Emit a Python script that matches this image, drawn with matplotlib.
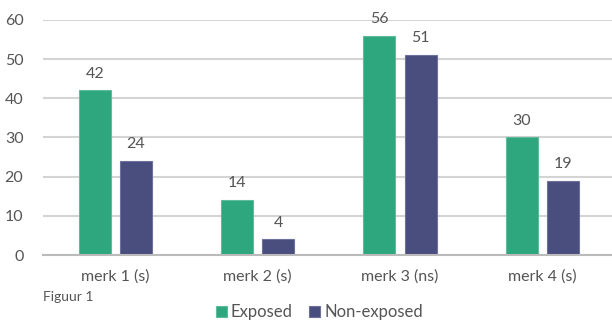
import matplotlib
matplotlib.use("Agg")
import matplotlib.pyplot as plt
import numpy as np

categories = ["merk 1 (s)", "merk 2 (s)", "merk 3 (ns)", "merk 4 (s)"]
exposed = [42, 14, 56, 30]
non_exposed = [24, 4, 51, 19]
yticks = [0, 10, 20, 30, 40, 50, 60]

green = "#2ea67e"
blue = "#4a4e7e"
txt = "#555555"

plt.rcParams["font.family"] = ["Lato", "DejaVu Sans"]

fig = plt.figure(figsize=(6.12, 3.2), dpi=100)
ax = fig.add_axes([0.07, 0.203, 0.93, 0.735])

x = np.arange(len(categories))
w = 0.225
off = 0.145
b1 = ax.bar(x - off + 0.01, exposed, w, color=green, edgecolor="#5fbb9a", lw=0.8,
            label="Exposed", zorder=3)
b2 = ax.bar(x + off + 0.01, non_exposed, w, color=blue, edgecolor="#6e729a", lw=0.8,
            label="Non-exposed", zorder=3)
for bars in (b1, b2):
    ax.bar_label(bars, padding=7, fontsize=11.5, color=txt)

ax.set_xlim(-0.5, len(categories) - 0.5)
ax.set_ylim(0, 60)
ax.set_yticks(yticks)
ax.set_xticks(x + 0.01)
ax.set_xticklabels(categories)
ax.tick_params(axis="both", length=0, labelsize=11.5, labelcolor=txt)
ax.tick_params(axis="y", pad=14)
ax.tick_params(axis="x", pad=10)
ax.grid(axis="y", color="#d4d4d4", lw=1.5, zorder=0)
for s in ("top", "right", "left"):
    ax.spines[s].set_visible(False)
ax.spines["bottom"].set_color("#bbbbbb")
ax.spines["bottom"].set_linewidth(1.5)
ax.spines["bottom"].set_zorder(4)

fig.text(0.07, 0.072, "Figuur 1", fontsize=10, color=txt, va="center")
fig.legend(handles=[b1, b2], loc="center", bbox_to_anchor=(0.522, 0.025),
           ncol=2, frameon=False, fontsize=12, labelcolor=txt,
           handlelength=0.65, handleheight=0.65, handletextpad=0.25,
           columnspacing=1.0, borderpad=0)

fig.savefig("out.png", dpi=100)
